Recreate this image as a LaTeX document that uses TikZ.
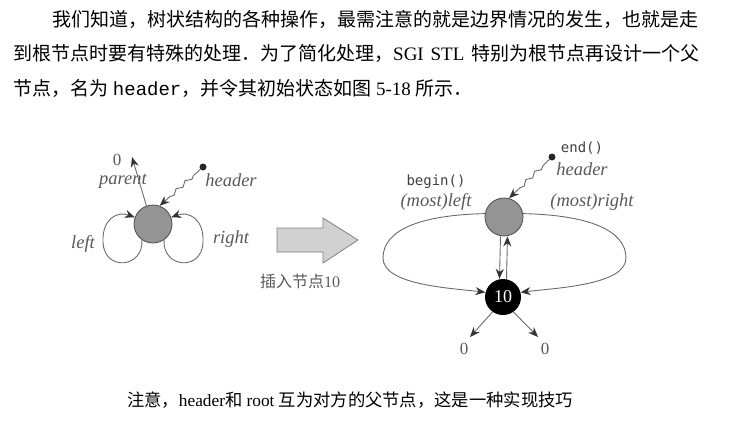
\documentclass[tikz,border=0pt]{standalone}
\usepackage{fontspec}
\setmainfont{Liberation Serif}
\setmonofont{Liberation Mono}
\newfontfamily\cjk{Noto Sans CJK SC}
\newfontfamily\codefont{DejaVu Sans Mono}
\XeTeXlinebreaklocale "zh"
\XeTeXlinebreakskip=0pt plus 2pt
\usepackage{tikz}
\usetikzlibrary{arrows.meta,positioning,calc,decorations.pathmorphing}
\definecolor{labelgray}{gray}{0.35}
\definecolor{linegray}{gray}{0.42}
\definecolor{nodegray}{gray}{0.58}
\tikzset{
  hdrnode/.style={circle,draw=black!70,line width=0.8pt,fill=nodegray,minimum size=38pt,inner sep=0pt},
  rootnode/.style={circle,fill=black,minimum size=36pt,inner sep=0pt,text=white,
    font=\fontsize{18}{18}\selectfont},
  ptrarrow/.style={-{Stealth[length=10pt,width=8pt,color=black!80]},draw=linegray,line width=0.9pt},
  wavyptr/.style={ptrarrow,decorate,decoration={snake,amplitude=1.8pt,segment length=12pt,
    pre length=9pt,post length=11pt}},
  ptrdot/.style={circle,fill=black!85,inner sep=0pt,minimum size=7pt},
  figlabel/.style={font=\fontsize{18.5}{18.5}\selectfont\itshape,text=labelgray,inner sep=0pt},
  codelabel/.style={font=\codefont\fontsize{14}{14}\selectfont,text=black!75,inner sep=0pt},
  zerolabel/.style={font=\fontsize{17}{17}\selectfont,text=labelgray,inner sep=0pt},
  textline/.style={anchor=base west,inner sep=0pt,font=\fontsize{19}{19}\selectfont}
}

\begin{document}
\begin{tikzpicture}[x=1pt,y=-1pt]
  \useasboundingbox (0,0) rectangle (752,429);

  % the paragraph above the figure
  \node[textline] (para1) at (52,26)
    {\makebox[647pt][s]{\cjk 我们知道，树状结构的各种操作，最需注意的就是边界情况的发生，也就是走}};
  \node[textline] (para2) at (13,60)
    {\makebox[686pt][s]{{\cjk 到根节点时要有特殊的处理．为了简化处理，}SGI STL {\cjk 特别为根节点再设计一个父}}};
  \node[textline] (para3) at (13,95)
    {{\cjk 节点，名为} \texttt{header}{\cjk ，并令其初始状态如图} 5-18 {\cjk 所示．}};

  % empty tree: header only
  \node[hdrnode] (hdrA) at (153,224) {};
  \coordinate (parentA) at (132,157);
  \node[zerolabel] (zeroA) at (117,160) {0};
  \node[figlabel] (parentlbl) at (123,181) {parent};
  \draw[ptrarrow] (hdrA.110) -- (parentA);
  \node[ptrdot] (dotA) at (203,167) {};
  \node[figlabel] (headerA) at (231,180) {header};
  \draw[wavyptr] (dotA) -- (hdrA.70);
  \draw[ptrarrow] (hdrA.235) .. controls (144,268) and (104,272) .. (103,242)
    .. controls (102,218) and (118,211) .. (hdrA.160);
  \draw[ptrarrow] (hdrA.305) .. controls (162,268) and (202,272) .. (203,242)
    .. controls (204,218) and (188,211) .. (hdrA.20);
  \node[figlabel] (leftA) at (83,244) {left};
  \node[figlabel] (rightA) at (231,239) {right};

  % big arrow
  \draw[draw=black!50,fill=black!18,line width=0.8pt]
    (277,228) -- (323,228) -- (323,218) -- (358,240) -- (323,263) -- (323,252) -- (277,252) -- cycle;
  \node[font=\fontsize{16}{16}\selectfont,text=labelgray,inner sep=0pt] (insertlbl) at (300,281)
    {{\cjk 插入节点}10};

  % after inserting 10
  \node[hdrnode] (hdrB) at (504,217) {};
  \node[rootnode] (root) at (503,297) {10};
  \node[ptrdot] (dotB) at (552,157) {};
  \draw[wavyptr] (dotB) -- (hdrB.75);
  \node[codelabel] (endlbl) at (582,148) {end()};
  \node[figlabel] (headerB) at (582,169) {header};
  \node[codelabel] (beginlbl) at (436,182) {begin()};
  \node[figlabel] (mostleft) at (436,202) {(most)left};
  \node[figlabel] (mostright) at (592,202) {(most)right};
  \draw[ptrarrow] ([xshift=-3.5pt]hdrB.south) -- ([xshift=-3.5pt]root.north);
  \draw[ptrarrow] ([xshift=3.5pt]root.north) -- ([xshift=3.5pt]hdrB.south);
  \draw[ptrarrow] (hdrB.170) .. controls (420,215) and (383,230) .. (383,258)
    .. controls (383,285) and (450,288) .. (root.165);
  \draw[ptrarrow] (hdrB.10) .. controls (588,215) and (626,230) .. (626,258)
    .. controls (626,285) and (556,288) .. (root.15);
  \coordinate (nilL) at (470,337);
  \coordinate (nilR) at (538,337);
  \draw[ptrarrow] (root.235) -- (nilL);
  \draw[ptrarrow] (root.305) -- (nilR);
  \node[zerolabel] (zeroL) at (464,349) {0};
  \node[zerolabel] (zeroR) at (545,349) {0};

  % caption
  \node[font=\fontsize{17.3}{17.3}\selectfont,inner sep=0pt] (caption) at (350,400)
    {{\cjk 注意，}header{\cjk 和} root {\cjk 互为对方的父节点，这是一种实现技巧}};
\end{tikzpicture}
\end{document}
